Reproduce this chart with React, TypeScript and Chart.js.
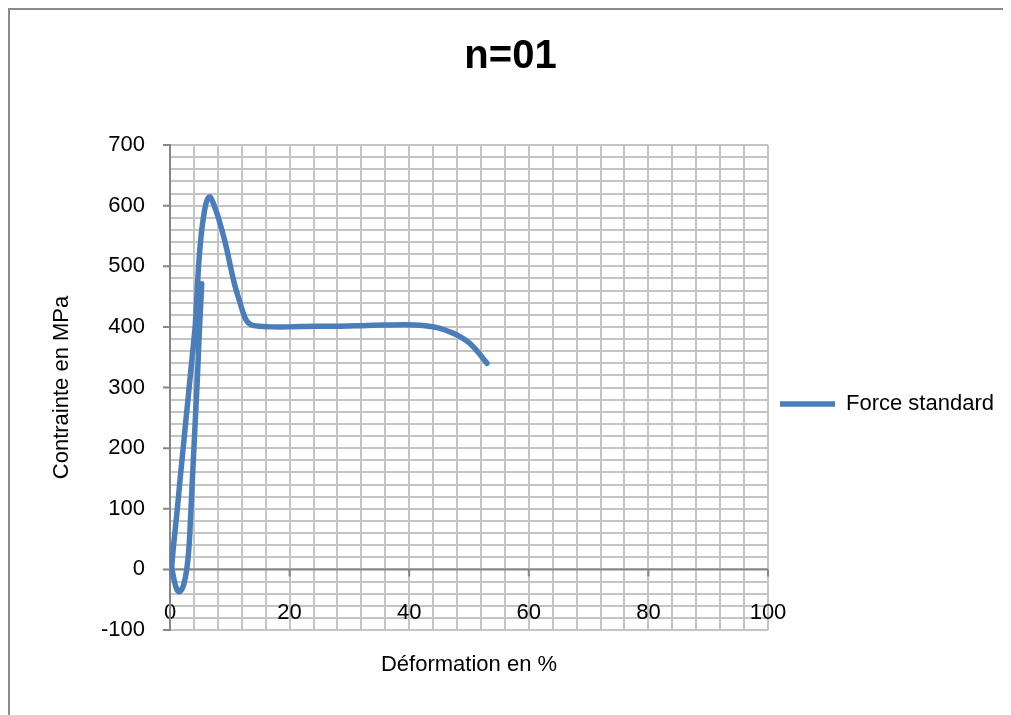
import React, { useEffect, useRef } from 'react';
import { Chart, registerables } from 'chart.js';

Chart.register(...registerables);

const chartTitle = 'n=01';
const seriesName = 'Force standard';
const xAxisTitle = 'Déformation en %';
const yAxisTitle = 'Contrainte en MPa';

// Strain (%) and stress (MPa), in drawing order
const strainPct = [
  5.3, 5.1, 4.85, 4.6, 4.3, 4.0, 3.75, 3.5, 3.2, 2.8, 2.3, 1.9, 1.5, 1.1, 0.7, 0.4, 0.3,
  0.6, 1.2, 1.7, 2.1, 2.7, 3.2, 3.7, 4.2, 4.5, 4.8, 5.2, 5.6, 6.0, 6.4, 6.75, 7.2,
  7.9, 8.5, 9.0, 9.5, 10.1, 10.8, 11.7, 12.2, 12.7, 13.3, 14.0, 15.0, 17.0, 20.0,
  24.0, 28.0, 32.0, 36.0, 39.0, 41.0, 43.0, 45.0, 47.0, 48.5, 50.0, 51.2, 52.2, 53.0,
];
const stressMPa = [
  471, 430, 380, 320, 260, 200, 150, 97, 40, 0, -25, -34, -37, -32, -18, -3, 5,
  40, 97, 150, 190, 250, 300, 350, 400, 450, 504, 550, 581, 603, 613, 614, 605,
  586, 566, 548, 528, 500, 470, 440, 424, 412, 405, 402, 401, 400, 400,
  401, 401, 402, 403, 403.5, 403, 401.5, 398, 391, 384, 374, 362, 350, 340,
];

const xTickLabels = [0, 20, 40, 60, 80, 100];
const yTickLabels = [-100, 0, 100, 200, 300, 400, 500, 600, 700];

const FONT = "'Liberation Sans', Arial, sans-serif";
const AXIS_GRAY = '#868686';
const GRID_GRAY = '#c4c4c4';
const LINE_BLUE = '#4A7EBB';
const LEGEND_W = 243;

const axisDecor = {
  id: 'axisDecor',
  beforeDatasetsDraw(chart: any) {
    const { ctx, chartArea, scales } = chart;
    const x = scales.x;
    const y = scales.y;
    const y0 = y.getPixelForValue(0);
    ctx.save();
    ctx.strokeStyle = AXIS_GRAY;
    ctx.lineWidth = 2;
    ctx.beginPath();
    ctx.moveTo(chartArea.left, y0);
    ctx.lineTo(chartArea.right, y0);
    for (const v of xTickLabels) {
      const px = x.getPixelForValue(v);
      ctx.moveTo(px, y0);
      ctx.lineTo(px, y0 + 7);
    }
    for (const v of yTickLabels) {
      const py = y.getPixelForValue(v);
      ctx.moveTo(chartArea.left - 7, py);
      ctx.lineTo(chartArea.left, py);
    }
    ctx.stroke();
    ctx.restore();
  },
};

const legendWidthFix = {
  id: 'legendWidthFix',
  beforeLayout(chart: any) {
    const lg = chart.legend;
    if (lg && !lg.__fixed) {
      const orig = lg.fit.bind(lg);
      lg.fit = function () {
        orig();
        this.width = LEGEND_W;
      };
      lg.__fixed = true;
    }
  },
};

export default function App() {
  const canvasRef = useRef<HTMLCanvasElement | null>(null);

  useEffect(() => {
    document.body.style.overflow = 'hidden';
    const canvas = canvasRef.current;
    if (!canvas) return;
    const points = strainPct.map((sx, i) => ({ x: sx, y: stressMPa[i] }));
    const chart = new Chart(canvas, {
      type: 'scatter',
      data: {
        datasets: [
          {
            label: seriesName,
            data: points,
            showLine: true,
            borderColor: LINE_BLUE,
            backgroundColor: LINE_BLUE,
            borderWidth: 5.5,
            pointRadius: 0,
            pointHoverRadius: 0,
            tension: 0.25,
            borderJoinStyle: 'round',
            borderCapStyle: 'round',
          } as any,
        ],
      },
      options: {
        responsive: false,
        animation: false,
        devicePixelRatio: 1,
        events: [],
        layout: { padding: 0 },
        plugins: {
          title: {
            display: true,
            text: chartTitle,
            color: '#000',
            font: { family: FONT, size: 40, weight: 'bold' },
            padding: { top: 23, bottom: 64 },
          },
          legend: {
            display: true,
            position: 'right',
            title: { display: true, text: '', padding: { top: 26, bottom: 26 }, font: { size: 26 } },
            labels: {
              color: '#000',
              font: { family: FONT, size: 22 },
              usePointStyle: true,
              pointStyle: 'line',
              pointStyleWidth: 55,
              padding: 12,
            },
          },
          tooltip: { enabled: false },
        },
        scales: {
          x: {
            type: 'linear',
            min: 0,
            max: 100,
            afterFit: (s: any) => {
              s.height = 85;
            },
            grid: { color: GRID_GRAY, lineWidth: 2, drawTicks: false },
            border: { display: false },
            ticks: {
              stepSize: 4,
              autoSkip: false,
              maxRotation: 0,
              mirror: true,
              padding: 4,
              color: '#000',
              font: { family: FONT, size: 22 },
              callback: (v: any) => {
                const n = Math.round(Number(v));
                return xTickLabels.includes(n) && Math.abs(n - Number(v)) < 1e-6 ? String(n) : '';
              },
            },
            title: {
              display: true,
              text: xAxisTitle,
              color: '#000',
              font: { family: FONT, size: 22 },
              padding: { top: 0, bottom: 37 },
            },
          },
          y: {
            type: 'linear',
            min: -100,
            max: 700,
            afterFit: (s: any) => {
              s.width = 160;
            },
            grid: { color: GRID_GRAY, lineWidth: 2, drawTicks: false },
            border: { display: true, color: AXIS_GRAY, width: 2 },
            ticks: {
              stepSize: 20,
              autoSkip: false,
              padding: 25,
              color: '#000',
              font: { family: FONT, size: 22 },
              callback: (v: any) => {
                const n = Math.round(Number(v));
                return yTickLabels.includes(n) && Math.abs(n - Number(v)) < 1e-6 ? String(n) : '';
              },
            },
            title: {
              display: true,
              text: yAxisTitle,
              color: '#000',
              font: { family: FONT, size: 22 },
              padding: { top: 39, bottom: 0 },
            },
          },
        },
      } as any,
      plugins: [axisDecor, legendWidthFix],
    });
    return () => {
      chart.destroy();
    };
  }, []);

  return (
    <div
      style={{
        width: 1001,
        height: 705,
        borderLeft: '2px solid #8a8a8a',
        borderTop: '2px solid #8a8a8a',
        overflow: 'hidden',
        background: '#fff',
      }}
    >
      <canvas ref={canvasRef} width={1001} height={705} style={{ display: 'block' }} />
    </div>
  );
}
